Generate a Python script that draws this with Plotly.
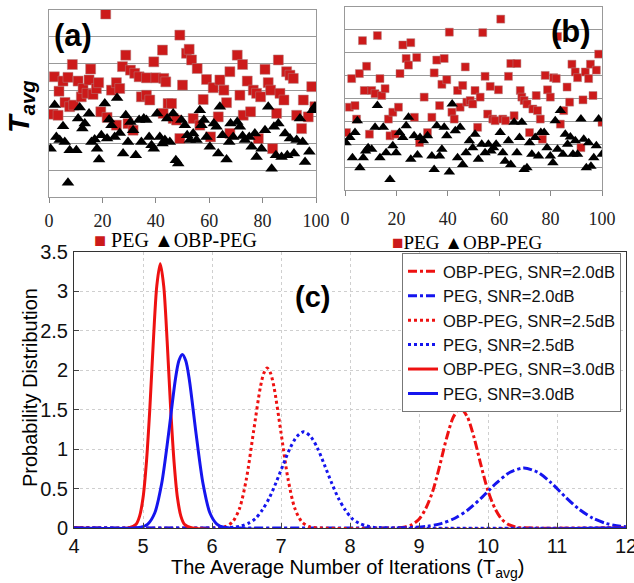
import plotly.graph_objects as go

# ---------------- Panel (a) data ----------------
a_peg_x = [1.5,2,3.4,3.75,5.25,6,7.1,7.75,8.75,9.25,10.9,12.1,12.75,14.25,15,15.6,16.5,17.75,18.6,19.4,21.25,21.75,23.4,25.25,26.5,25.25,27.5,28.75,30.5,29.6,32.1,31.5,33.75,34.6,36.5,36.5,37.75,39.25,40,42.5,43,43.75,44.6,45.9,42.75,46.5,47.75,49,50,51.5,52.5,53.4,54,55.5,49,56.5,57.75,59,60.5,61.5,63.4,64,65.5,66.5,67.75,67.75,70.5,71.5,72.5,72.75,74.25,75.5,76.5,77.75,78.4,79.25,80.9,82.1,83,83.75,85.25,85.9,86.5,88,89,90.25,91.5,92.75,94.6,95.25,97.1,98.4,99.6]
a_peg_y = [3.1,4.5,3.06,3.96,4.34,3.54,4.48,3.38,4.96,3.44,4.34,3.75,4.06,3.88,4.38,4.79,3.84,4.06,4.28,3.19,6.85,2.98,4.0,4.28,4.06,2.69,4.88,5.31,4.75,2.75,4.63,2.5,4.5,3.75,4.46,3.81,3.63,5.06,4.46,5.5,4.44,4.31,3.5,3.5,3.13,2.94,2.88,6.06,4.19,5.38,5.53,5.13,2.94,4.81,2.19,2.69,3.65,4.4,2.25,4.09,3.0,4.38,4.0,3.53,4.69,2.38,5.31,3.81,4.96,3.06,4.34,3.19,4.0,3.88,2.19,3.75,4.78,4.28,4.0,1.81,3.13,5.13,3.88,3.63,4.69,4.56,4.44,3.06,2.56,3.63,3.0,4.13,3.38]
a_obp_x = [0.6,2.1,2.75,4,5.25,5.9,7.1,7.75,10.25,10.9,11.5,12.5,13.4,15,15.9,17.1,18,18.75,19.6,20.9,21.75,22.5,23.4,24.6,25.5,26.5,27.75,28.75,29.6,30.5,31.5,32.5,33.75,34.6,35.5,36.5,37.5,38.4,39.25,40.5,41.5,42.5,43.4,44.25,45.25,46.5,47.5,48.4,49.6,50.9,51.75,52.75,54,55.25,56.5,57.1,58,59,60.25,61.75,62.75,63.4,64,65,66.5,67.5,68,69,70.5,71.5,72.5,73.4,75,75.9,77.1,77.75,79.6,80.9,82.1,83.4,84.25,85,85.9,87.1,88.4,89.25,90.25,91.75,92.75,94,95,95.9,97.5,98.75,99.6]
a_obp_y = [1.81,3.44,2.25,2.13,2.65,2.06,0.53,1.75,1.75,2.94,3.35,2.56,2.75,3.13,2.06,2.15,1.81,1.4,2.31,3.5,2.19,2.9,2.69,2.25,3.71,2.4,1.63,3.06,2.06,2.81,2.5,1.56,2.88,2.06,2.94,2.88,2.25,1.94,1.81,3.13,2.25,2.0,2.13,2.94,2.06,3.13,1.38,1.25,2.88,2.69,2.31,2.13,2.38,2.13,3.25,2.69,2.88,2.25,1.88,2.75,2.63,1.63,3.38,2.31,1.4,2.06,2.75,2.25,2.81,2.63,2.28,2.13,2.25,1.88,2.38,1.5,1.81,2.5,3.38,1.06,2.63,1.56,2.75,1.5,2.38,1.56,2.19,1.63,2.13,2.94,2.06,1.31,1.69,3.25,3.38]

# ---------------- Panel (b) data ----------------
b_peg_x = [0.6,1.7,2.6,3.9,4.5,5.6,6.8,7.5,8.4,9.5,10.4,11.7,12.6,13.6,14.3,15.6,16.9,17.5,18.6,19.5,20.8,21.4,22.5,23.8,24.7,25.6,27,27.9,29,30.8,32.1,33.8,34.7,35.7,36.8,37.7,38.6,39.6,40.6,41.6,42.5,43.8,44.8,45.8,46.8,47.4,48.7,49.7,50.6,51.6,52.6,53.6,54.5,55.5,56.5,57.5,58.4,59.7,60.6,61.4,62.5,63.6,64.5,65.8,66.9,68.2,68.8,69.7,70.8,71.8,73.1,74.4,74.9,76,76.8,77.9,78.8,79.9,81.2,82.2,82.7,83.8,85.1,86.4,87.4,88.3,89.6,90.5,91.8,92.6,93.5,94.8,95.5,96.5,97.8,98.7,100]
b_peg_y = [2.51,3.62,4.87,3.69,3.1,5.09,6.53,4.35,5.41,2.44,4.35,4.21,6.75,4.87,4.13,4.43,3.1,2.37,3.4,2.44,3.62,5.09,6.34,5.75,5.46,6.44,3.18,5.79,2.07,4.06,2.51,3.18,5.12,5.68,3.69,4.62,5.75,4.82,6.9,3.4,3.1,4.35,3.62,4.57,5.38,3.84,3.91,3.76,4.35,2.74,4.06,6.88,4.97,3.32,4.53,3.1,3.03,4.38,7.47,3.1,3.03,4.97,5.53,3.25,5.53,4.35,4.06,3.91,3.76,2.51,3.54,4.13,3.47,3.1,2.22,5.01,4.38,4.06,4.91,4.87,6.71,2.88,3.47,4.5,3.84,5.5,5.16,4.91,1.85,3.94,5.16,4.87,5.5,4.13,5.24,5.94,2.96]
b_obp_x = [0.4,1.9,2.9,3.9,4.8,5.8,7.1,8,9,10.4,11.7,12.6,13.6,14.9,16,17.5,18.6,19.9,21.2,22.5,23.8,24.7,25.6,26.9,28.2,29.2,30.5,32.1,33.8,34.7,35.7,36.8,37.7,38.6,39.6,40.6,41.7,42.9,43.8,44.8,45.8,47.1,48.4,49.7,50.6,51.9,53.2,54.5,55.8,56.8,57.8,58.8,60.4,61.4,62.3,63.6,64.5,65.8,66.9,67.9,68.8,69.7,70.8,71.8,72.7,74,75.3,76.2,77.5,78.6,79.9,80.9,81.8,82.7,83.8,84.8,85.7,86.6,87.7,88.7,89.6,90.5,91.8,92.9,93.9,94.8,95.7,96.8,97.8,98.7,100]
b_obp_y = [2.07,2.29,1.41,2.51,3.03,0.97,1.41,1.71,1.85,1.78,2.74,3.69,1.41,2.74,1.63,0.46,1.93,1.63,2.51,2.29,2.81,3.18,1.34,2.37,1.53,2.29,2.15,2.37,1.49,0.9,2.81,1.49,1.78,2.74,2.37,0.79,3.76,2.59,1.41,2.74,1.12,1.63,2.15,1.85,2.44,1.34,2.0,1.63,2.0,1.71,1.85,2.0,2.51,1.63,1.26,2.15,1.12,2.96,1.63,2.29,2.96,0.9,0.97,2.07,1.56,2.29,1.49,2.51,2.51,1.85,1.49,1.19,3.03,1.78,3.47,1.56,2.44,2.0,2.32,1.56,2.15,1.56,3.1,2.22,0.97,2.07,1.04,1.41,1.93,3.1,1.56]

scatter_ticks = [0, 20, 40, 60, 80, 100]

# ---------------- Panel (c) data ----------------
obp30_x = [4.0,4.8,4.9,4.95,5.0,5.05,5.1,5.15,5.2,5.25,5.3,5.35,5.4,5.45,5.5,5.55,5.6,5.7,12.0]
obp30_y = [0,0.003,0.048,0.147,0.38,0.84,1.53,2.37,3.07,3.35,3.07,2.37,1.53,0.84,0.38,0.147,0.048,0.003,0]
peg30_x = [4.0,4.97,5.07,5.17,5.27,5.37,5.47,5.52,5.57,5.62,5.67,5.77,5.87,5.97,6.07,6.17,12.0]
peg30_y = [0,0.01,0.05,0.19,0.56,1.19,1.89,2.12,2.2,2.12,1.89,1.19,0.56,0.19,0.05,0.01,0]
obp25_x = [4.0,6.1,6.2,6.3,6.4,6.5,6.6,6.7,6.75,6.8,6.85,6.9,7.0,7.1,7.2,7.3,7.4,7.5,12.0]
obp25_y = [0,0.003,0.019,0.079,0.25,0.63,1.21,1.78,1.96,2.03,1.96,1.78,1.21,0.63,0.25,0.079,0.019,0.003,0]
peg25_x = [4.0,6.13,6.33,6.43,6.53,6.63,6.73,6.83,6.93,7.03,7.13,7.23,7.33,7.43,7.53,7.63,7.73,7.83,7.93,8.03,8.13,8.23,8.33,8.53,12.0]
peg25_y = [0,0.001,0.011,0.028,0.061,0.12,0.23,0.38,0.58,0.80,1.01,1.16,1.22,1.16,1.01,0.80,0.58,0.38,0.23,0.12,0.061,0.028,0.011,0.001,0]
obp20_x = [4.0,8.7,8.8,8.9,9.0,9.1,9.2,9.3,9.4,9.5,9.6,9.7,9.8,9.9,10.0,10.1,10.2,10.3,10.4,10.5,12.0]
obp20_y = [0,0.003,0.014,0.043,0.11,0.25,0.47,0.79,1.14,1.41,1.52,1.41,1.14,0.79,0.47,0.25,0.11,0.043,0.014,0.003,0]
peg20_x = [4.0,8.72,8.92,9.12,9.32,9.52,9.72,9.92,10.12,10.32,10.52,10.72,10.92,11.12,11.32,11.52,11.72,11.92,12.0]
peg20_y = [0,0.002,0.007,0.022,0.056,0.124,0.238,0.395,0.569,0.707,0.76,0.707,0.569,0.395,0.238,0.124,0.056,0.022,0.016]

c_xticks = [4,5,6,7,8,9,10,11,12]
c_yticks = [0,0.5,1,1.5,2,2.5,3,3.5]

RED = "#ee1111"
BLUE = "#1515ee"
SQ_RED = "#cc1a1a"
W, H = 634, 583

def px(x): return x / W
def py(y): return 1 - y / H

fig = go.Figure()

curves = [
    (obp20_x, obp20_y, "OBP-PEG, SNR=2.0dB", RED, "dashdot"),
    (peg20_x, peg20_y, "PEG, SNR=2.0dB", BLUE, "dashdot"),
    (obp25_x, obp25_y, "OBP-PEG, SNR=2.5dB", RED, "dot"),
    (peg25_x, peg25_y, "PEG, SNR=2.5dB", BLUE, "dot"),
    (obp30_x, obp30_y, "OBP-PEG, SNR=3.0dB", RED, "solid"),
    (peg30_x, peg30_y, "PEG, SNR=3.0dB", BLUE, "solid"),
]
for xs, ys, name, col, dash in curves:
    fig.add_trace(go.Scatter(x=xs, y=ys, mode="lines", name=name,
                             line=dict(color=col, width=3, dash=dash, shape="spline", smoothing=0.8),
                             xaxis="x", yaxis="y"))

fig.add_trace(go.Scatter(x=a_peg_x, y=a_peg_y, mode="markers", showlegend=False,
                         marker=dict(symbol="square", size=10, color=SQ_RED, line=dict(width=0.5, color="#b08080")),
                         xaxis="x2", yaxis="y2"))
fig.add_trace(go.Scatter(x=a_obp_x, y=a_obp_y, mode="markers", showlegend=False,
                         marker=dict(symbol="triangle-up", size=11, color="black"),
                         xaxis="x2", yaxis="y2"))
fig.add_trace(go.Scatter(x=b_peg_x, y=b_peg_y, mode="markers", showlegend=False,
                         marker=dict(symbol="square", size=8, color=SQ_RED, line=dict(width=0.5, color="#b08080")),
                         xaxis="x3", yaxis="y3"))
fig.add_trace(go.Scatter(x=b_obp_x, y=b_obp_y, mode="markers", showlegend=False,
                         marker=dict(symbol="triangle-up", size=10, color="black"),
                         xaxis="x3", yaxis="y3"))

serif = "Liberation Serif, Times New Roman, serif"
arial = "Liberation Sans, Arial, sans-serif"

def sc_x(standoff):
    return dict(range=[0, 100], tickvals=scatter_ticks, ticks="outside", ticklen=5, tickcolor="#888",
                showline=True, linecolor="#999", linewidth=1, mirror=True, showgrid=False, zeroline=False,
                automargin=False, ticklabelstandoff=standoff, ticklabeloverflow="allow",
                tickfont=dict(family=serif, size=18, color="#222"))

fig.update_layout(
    width=W, height=H, margin=dict(l=0, r=0, t=0, b=0),
    paper_bgcolor="white", plot_bgcolor="white", showlegend=True,
    xaxis=dict(domain=[px(74), px(626)], anchor="y", range=[4, 12], tickvals=c_xticks,
               ticks="inside", ticklen=5, showline=True, linecolor="#333", mirror=True,
               showgrid=True, gridcolor="#cfcfcf", griddash="dot", zeroline=False, automargin=False,
               ticklabeloverflow="allow",
               tickfont=dict(family=arial, size=20, color="#111")),
    yaxis=dict(domain=[py(528), py(252)], anchor="x", range=[0, 3.5], tickvals=c_yticks,
               ticktext=[str(v) if v != int(v) else str(int(v)) for v in c_yticks],
               ticks="inside", ticklen=5, showline=True, linecolor="#333", mirror=True,
               showgrid=True, gridcolor="#cfcfcf", griddash="dot", zeroline=False, automargin=False,
               ticklabeloverflow="allow", ticklabelstandoff=1,
               tickfont=dict(family=arial, size=20, color="#111")),
    xaxis2=dict(domain=[px(49), px(316)], anchor="y2", **sc_x(2)),
    yaxis2=dict(domain=[py(197), py(10)], anchor="x2", range=[0, 7], dtick=1, automargin=False,
                showticklabels=False, showline=True, linecolor="#999", mirror=True,
                showgrid=True, gridcolor="#999", zeroline=False),
    xaxis3=dict(domain=[px(345), px(602)], anchor="y3", **sc_x(7)),
    yaxis3=dict(domain=[py(190), py(7)], anchor="x3", range=[0, 8], dtick=1, automargin=False,
                showticklabels=False, showline=True, linecolor="#999", mirror=True,
                showgrid=True, gridcolor="#999", zeroline=False),
    legend=dict(x=px(621), y=py(253), xanchor="right", yanchor="top",
                bgcolor="white", bordercolor="#777", borderwidth=1,
                font=dict(family=arial, size=16.5, color="#111"), tracegroupgap=0),
)

ann = []
def add(x, y, text, size, family=arial, angle=0, color="black"):
    ann.append(dict(x=px(x), y=py(y), xref="paper", yref="paper", text=text, showarrow=False,
                    xanchor="center", yanchor="middle",
                    textangle=angle, font=dict(family=family, size=size, color=color)))

add(73, 36, "<b>(a)</b>", 31)
add(571, 31, "<b>(b)</b>", 31)
add(312, 297, "<b>(c)</b>", 29)
add(21, 107, "<b><i>T<sub>avg</sub></i></b>", 29, angle=-90)
add(175, 240, '<span style="color:%s">■</span> PEG ▲OBP-PEG' % SQ_RED, 20, family=serif)
add(467, 242, '<span style="color:%s">■</span>PEG ▲OBP-PEG' % SQ_RED, 19, family=serif)
add(347, 568, "The Average Number of Iterations (T<sub>avg</sub>)", 20)
add(30, 388, "Probability Distribution", 20, angle=-90)
fig.update_layout(annotations=ann)

fig.write_html("out.html", config={"displayModeBar": False},
               post_script="document.body.style.margin='0';document.body.style.overflow='hidden';")
